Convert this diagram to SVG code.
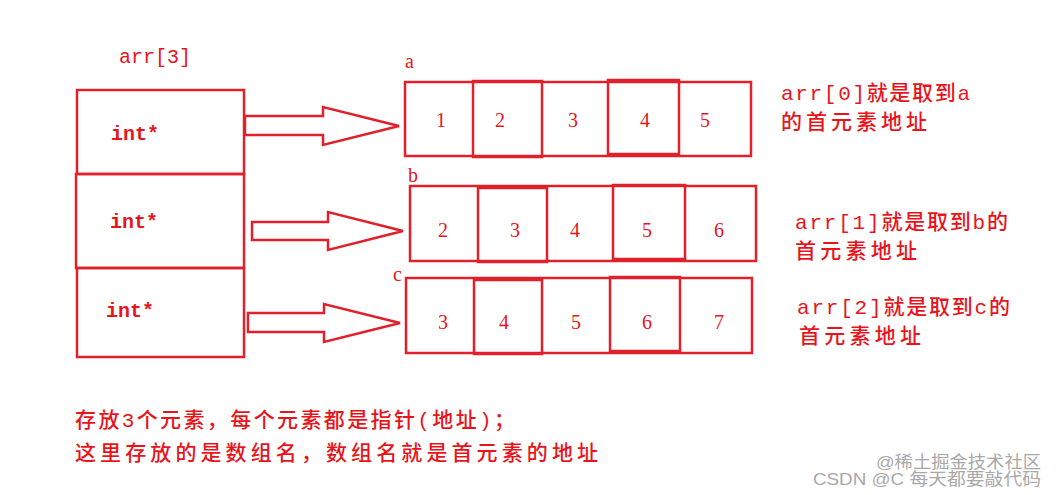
<svg xmlns="http://www.w3.org/2000/svg" width="1056" height="495" viewBox="0 0 1056 495">
<style>
.box{fill:none;stroke:#e0202a;stroke-width:2.5}
.arrow{fill:#fff;stroke:#e0202a;stroke-width:2.5;stroke-linejoin:miter}
.mono{font-family:"Liberation Mono","DejaVu Sans Mono",monospace;font-size:20px;fill:#e8141c}
.bold{font-weight:bold}
.num{font-family:"Liberation Serif","DejaVu Serif",serif;font-size:20px;fill:#e8141c;text-anchor:middle}
.lbl{font-family:"Liberation Serif","DejaVu Serif",serif;font-size:20px;fill:#e8141c}
.cn{font-family:"Liberation Mono","Noto Sans CJK SC",sans-serif;font-size:21px;font-weight:500;fill:#e8141c}
.wm{font-family:"Liberation Sans","Noto Sans CJK SC",sans-serif;font-size:17px;fill:#9a9a9a}
</style>
<rect width="1056" height="495" fill="#fff"/>

<g id="arr">
  <text class="mono" x="119" y="63">arr[3]</text>
  <rect class="box" x="77" y="90" width="167" height="84"/>
  <rect class="box" x="76" y="174" width="168" height="94"/>
  <rect class="box" x="77" y="268" width="167" height="89"/>
  <text class="mono bold" x="111" y="140">int*</text>
  <text class="mono bold" x="110" y="228">int*</text>
  <text class="mono bold" x="106" y="317">int*</text>
</g>

<g id="array-a">
  <text class="lbl" x="405" y="68">a</text>
  <rect class="box" x="405" y="82" width="346" height="74"/>
  <rect class="box" x="473" y="81" width="69" height="76"/>
  <rect class="box" x="608" y="80" width="71" height="74"/>
  <text class="num" x="441" y="127">1</text>
  <text class="num" x="500" y="127">2</text>
  <text class="num" x="573" y="127">3</text>
  <text class="num" x="645" y="127">4</text>
  <text class="num" x="705" y="127">5</text>
</g>

<g id="array-b">
  <text class="lbl" x="408" y="182">b</text>
  <rect class="box" x="410" y="186" width="346" height="75"/>
  <rect class="box" x="478" y="188" width="69" height="74"/>
  <rect class="box" x="613" y="185" width="72" height="74"/>
  <text class="num" x="443" y="237">2</text>
  <text class="num" x="515" y="237">3</text>
  <text class="num" x="575" y="237">4</text>
  <text class="num" x="647" y="237">5</text>
  <text class="num" x="719" y="237">6</text>
</g>

<g id="array-c">
  <text class="lbl" x="393" y="281">c</text>
  <rect class="box" x="406" y="278" width="346" height="75"/>
  <rect class="box" x="474" y="280" width="68" height="74"/>
  <rect class="box" x="610" y="277" width="70" height="74"/>
  <text class="num" x="443" y="329">3</text>
  <text class="num" x="504" y="329">4</text>
  <text class="num" x="576" y="329">5</text>
  <text class="num" x="647" y="329">6</text>
  <text class="num" x="719" y="329">7</text>
</g>

<g id="connectors">
  <polygon class="arrow" points="245,116 323,116 323,107 399,126 323,145 323,135 245,135"/>
  <polygon class="arrow" points="252,222 328,222 328,212 403,231 328,250 328,240 252,240"/>
  <polygon class="arrow" points="248,313 324,313 324,304 400,323 324,342 324,332 248,332"/>
</g>

<g id="note-a">
  <text class="cn" x="781" y="100" textLength="189" lengthAdjust="spacing">arr[0]就是取到a</text>
  <text class="cn" x="781" y="129" textLength="146" lengthAdjust="spacing">的首元素地址</text>
</g>
<g id="note-b">
  <text class="cn" x="795" y="229" textLength="213" lengthAdjust="spacing">arr[1]就是取到b的</text>
  <text class="cn" x="795" y="258" textLength="122" lengthAdjust="spacing">首元素地址</text>
</g>
<g id="note-c">
  <text class="cn" x="797" y="314" textLength="213" lengthAdjust="spacing">arr[2]就是取到c的</text>
  <text class="cn" x="799" y="343" textLength="122" lengthAdjust="spacing">首元素地址</text>
</g>

<g id="caption">
  <text class="cn" x="75" y="427" textLength="440" lengthAdjust="spacing">存放3个元素，每个元素都是指针(地址)；</text>
  <text class="cn" x="75" y="460" textLength="523" lengthAdjust="spacing">这里存放的是数组名，数组名就是首元素的地址</text>
</g>

<g id="watermark" opacity="0.85">
  <text class="wm" x="813" y="485" textLength="228" lengthAdjust="spacingAndGlyphs">CSDN @C 每天都要敲代码</text>
  <text class="wm" x="876" y="468" fill="#bbb" textLength="165" lengthAdjust="spacingAndGlyphs">@稀土掘金技术社区</text>
</g>
</svg>
